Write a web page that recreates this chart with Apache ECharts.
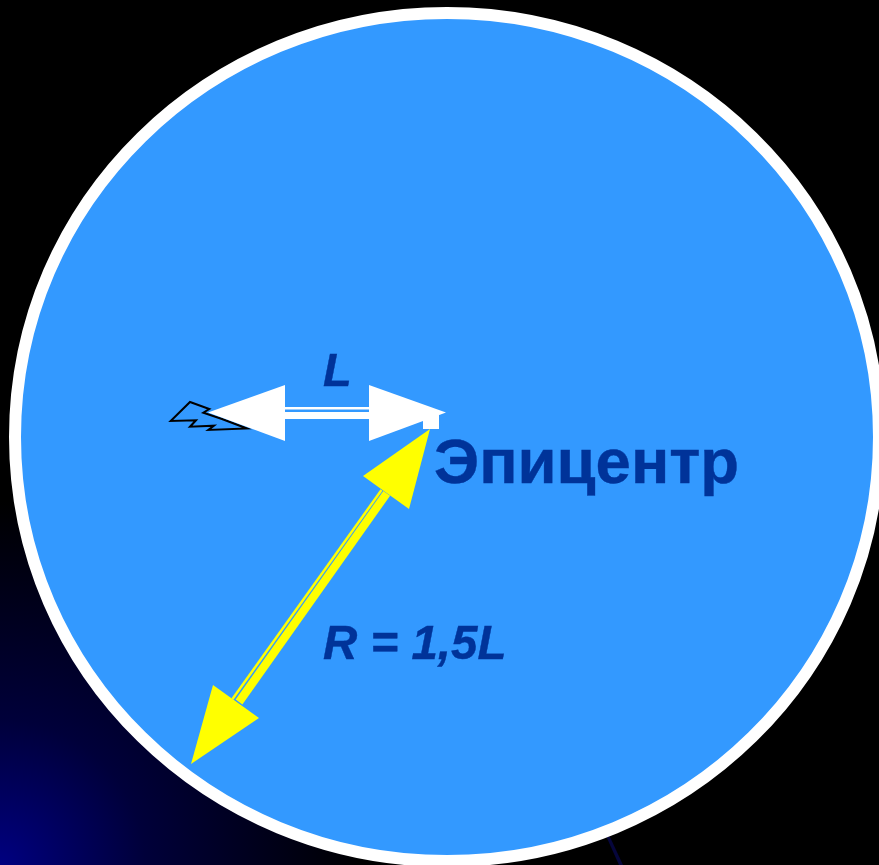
<!DOCTYPE html>
<html>
<head>
<meta charset="utf-8">
<style>html,body{margin:0;padding:0;background:#000}#c{width:879px;height:865px}</style>
<script src="https://cdn.jsdelivr.net/npm/echarts@6/dist/echarts.min.js"></script>
</head>
<body>
<div id="c"></div>
<script>
// Diagram readings, in the units of the hidden axes
var regionEllipse = [447, 437, 432, 424];
var faultTrace = [[170.7,421],[190,402],[209.3,409],[203.3,412.7],[222,419],[247,428.5],[208.3,430],[214,425.7],[190,426.7],[196,420.3]];
var whiteHeads = [
  [[208,412.5],[285,385],[285,441]],
  [[446,412.5],[369,385],[369,441]]
];
var whiteShafts = [
  [[285,408.2],[369,408.2],2.4],
  [[285,415.5],[369,415.5],7]
];
var epicentreBox = [[423,414],[439,414],[439,429],[423,429]];
var yellowHeads = [
  [[430,429],[363,476],[409,509]],
  [[191,764],[213,685],[259,718]]
];
var yellowShafts = [
  [[381.5,490],[232.5,699],2.5],
  [[386.7,493.3],[239,702],8.3]
];
var backgroundSliver = [[606.5,837],[610,837],[623,865],[619,865]];
var labels = [
  {text:'L', x:323, y:373, size:47, italic:true},
  {text:'Эпицентр', x:434, y:465, size:63.5, italic:false},
  {text:'R = 1,5L', x:323, y:646, size:47.5, italic:true}
];

var INK = '#003399', FILL = '#3399ff';

function pts(api, list){ return list.map(function(p){ return api.coord(p); }); }
function polySeries(list, style){
  return {
    type:'custom', coordinateSystem:'cartesian2d', clip:false, silent:true,
    data:list.map(function(_,i){ return [i]; }),
    renderItem:function(params, api){
      return {type:'polygon', shape:{points:pts(api, list[params.dataIndex])}, style:style};
    }
  };
}
function shaftSeries(list, color){
  return {
    type:'custom', coordinateSystem:'cartesian2d', clip:false, silent:true,
    data:list.map(function(_,i){ return [i]; }),
    renderItem:function(params, api){
      var s = list[params.dataIndex], a = api.coord(s[0]), b = api.coord(s[1]);
      return {type:'line', shape:{x1:a[0],y1:a[1],x2:b[0],y2:b[1]}, style:{stroke:color, lineWidth:s[2], fill:null}};
    }
  };
}
var chart = echarts.init(document.getElementById('c'), null, {renderer:'canvas'});
chart.setOption({
  animation:false,
  backgroundColor:new echarts.graphic.RadialGradient(0, 1, 0.42, [
    {offset:0, color:'#000080'},
    {offset:0.4, color:'#00003a'},
    {offset:1, color:'#000000'}
  ]),
  grid:{left:0, right:0, top:0, bottom:0},
  xAxis:{type:'value', min:0, max:879, show:false},
  yAxis:{type:'value', min:0, max:865, inverse:true, show:false},
  series:[
    polySeries([backgroundSliver], {fill:'#06063c'}),
    {
      type:'custom', coordinateSystem:'cartesian2d', clip:false, silent:true,
      data:[regionEllipse],
      renderItem:function(params, api){
        var c = api.coord([api.value(0), api.value(1)]);
        var s = api.size([api.value(2), api.value(3)]);
        return {type:'ellipse', shape:{cx:c[0], cy:c[1], rx:s[0], ry:s[1]},
                style:{fill:FILL, stroke:'#ffffff', lineWidth:12}};
      }
    },
    polySeries([faultTrace], {fill:FILL, stroke:'#000000', lineWidth:2}),
    shaftSeries(whiteShafts, '#ffffff'),
    polySeries(whiteHeads, {fill:'#ffffff'}),
    polySeries([epicentreBox], {fill:'#ffffff'}),
    shaftSeries(yellowShafts, '#ffff00'),
    polySeries(yellowHeads, {fill:'#ffff00'}),
    {
      type:'custom', coordinateSystem:'cartesian2d', clip:false, silent:true,
      data:labels.map(function(l){ return [l.x, l.y]; }),
      renderItem:function(params, api){
        var l = labels[params.dataIndex], c = api.coord([l.x, l.y]);
        return {type:'text', x:c[0], y:c[1], style:{
          text:l.text, fill:INK, stroke:INK, lineWidth:0.4, verticalAlign:'middle', align:'left',
          font:(l.italic?'italic ':'')+'bold '+l.size+'px "Liberation Sans", Arial, sans-serif'
        }};
      }
    }
  ]
});
</script>
</body>
</html>
